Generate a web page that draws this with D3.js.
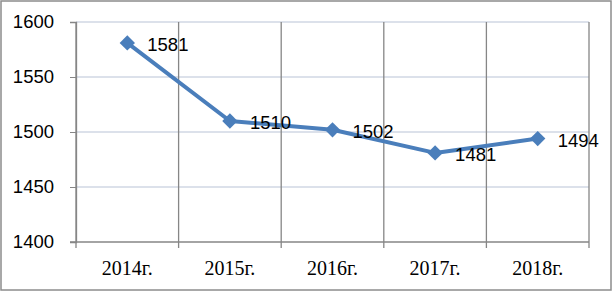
<!DOCTYPE html>
<html><head><meta charset="utf-8">
<script src="https://cdn.jsdelivr.net/npm/d3@7"></script>
<style>body{margin:0;background:#fff}svg{display:block}</style>
</head><body>
<svg id="c" width="613" height="292"></svg>
<script>
const categories = ["2014г.", "2015г.", "2016г.", "2017г.", "2018г."];
const values = [1581, 1510, 1502, 1481, 1494];
const yTicks = [1400, 1450, 1500, 1550, 1600];

const svg = d3.select("#c");
const W = 613, H = 292;
const m = {l: 76, r: 24, t: 22, b: 50};
const x = d3.scaleBand().domain(categories).range([m.l, W - m.r]);
const y = d3.scaleLinear().domain([1400, 1600]).range([H - m.b, m.t]);
const sans = "'Liberation Sans', Arial, sans-serif";

svg.append("rect").attr("x", 1).attr("y", 1).attr("width", W - 3).attr("height", H - 3)
  .attr("fill", "none").attr("stroke", "#8c8c8c").attr("stroke-width", 1.5);

svg.append("g").selectAll("line").data(yTicks.slice(1)).join("line")
  .attr("x1", m.l).attr("x2", W - m.r).attr("y1", d => y(d)).attr("y2", d => y(d))
  .attr("stroke", "#b9c3d6").attr("stroke-width", 1);

const bounds = categories.map(c => x(c)).concat([x(categories[categories.length - 1]) + x.bandwidth()]);
svg.append("g").selectAll("line").data(bounds).join("line")
  .attr("x1", d => d).attr("x2", d => d).attr("y1", m.t).attr("y2", y(1400) + 6)
  .attr("stroke", "#868686").attr("stroke-width", 1.3);

const ya = svg.append("g").attr("transform", `translate(${m.l},0)`)
  .call(d3.axisLeft(y).tickValues(yTicks).tickFormat(d3.format("d")).tickSize(6).tickPadding(16));
ya.select(".domain").attr("stroke", "#868686").attr("stroke-width", 1.3);
ya.selectAll(".tick line").attr("stroke", "#868686");
ya.selectAll("text").attr("font-family", sans).attr("font-size", 18.5).attr("fill", "#000");

svg.append("line").attr("x1", m.l - 6).attr("x2", W - m.r).attr("y1", y(1400)).attr("y2", y(1400))
  .attr("stroke", "#868686").attr("stroke-width", 1.3);

svg.append("g").selectAll("text").data(categories).join("text")
  .attr("x", d => x(d) + x.bandwidth() / 2).attr("y", 275)
  .attr("text-anchor", "middle").attr("font-family", "'Liberation Serif', 'Times New Roman', serif")
  .attr("font-size", 20).attr("fill", "#000").text(d => d);

const pts = categories.map((c, i) => [x(c) + x.bandwidth() / 2, y(values[i])]);
svg.append("path").datum(pts).attr("d", d3.line())
  .attr("fill", "none").attr("stroke", "#4a7ebb").attr("stroke-width", 4).attr("stroke-linejoin", "round");

svg.append("g").selectAll("path").data(pts).join("path")
  .attr("transform", d => `translate(${d[0]},${d[1]})`)
  .attr("d", d3.symbol(d3.symbolDiamond2, 150)())
  .attr("fill", "#4a7ebb");

svg.append("g").selectAll("text").data(pts).join("text")
  .attr("x", d => d[0] + 20).attr("y", d => d[1] + 8)
  .attr("font-family", sans).attr("font-size", 18.5).attr("fill", "#000")
  .text((d, i) => values[i]);
</script>
</body></html>
